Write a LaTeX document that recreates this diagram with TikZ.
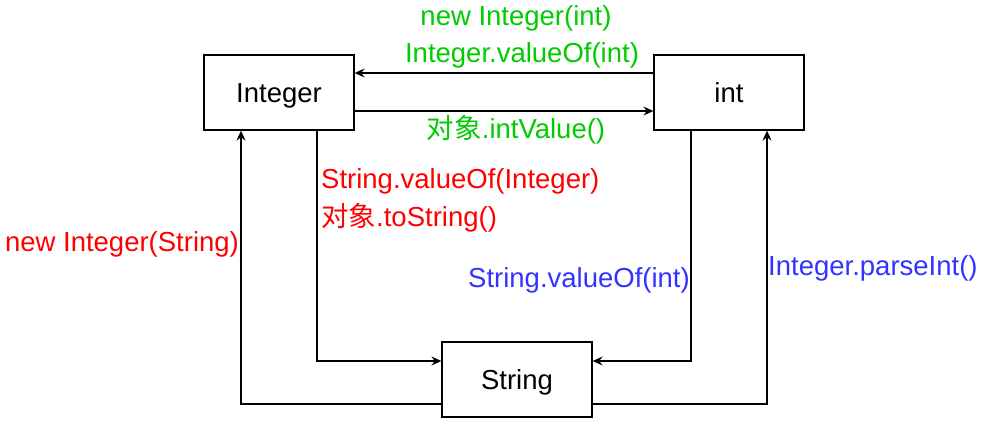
\documentclass[tikz,border=0pt]{standalone}
\usepackage{fontspec}
\setmainfont{Liberation Sans}
\newfontfamily\cjk{Noto Sans CJK SC}
\usetikzlibrary{arrows.meta}
\definecolor{cgreen}{HTML}{00CC00}
\definecolor{cred}{HTML}{FF0000}
\definecolor{cblue}{HTML}{3333FF}
\begin{document}
\begin{tikzpicture}[x=1pt,y=-1pt,
  box/.style={draw, line width=1.3pt, minimum width=150pt, minimum height=75pt, inner sep=0pt, text height=20pt, text depth=1pt, font=\fontsize{27.5}{33}\selectfont},
  conn/.style={line width=1.3pt, -{Stealth[length=10pt,width=9pt,inset=3.5pt]}},
  lbl/.style={inner sep=0pt, font=\fontsize{27.5}{33}\selectfont},
]
\useasboundingbox (0,0) rectangle (981,424);
\node[box] (Integer) at (279,92.5) {Integer};
\node[box] (int) at (729,92.5) {int};
\node[box] (String) at (517,379.5) {String};

\draw[conn] ([yshift=19.5pt]int.west) -- ([yshift=19.5pt]Integer.east);
\draw[conn] ([yshift=-18.5pt]Integer.east) -- ([yshift=-18.5pt]int.west);
\draw[conn] ([xshift=38pt]Integer.south) |- ([yshift=18.5pt]String.west);
\draw[conn] ([xshift=-38pt]int.south) |- ([yshift=18.5pt]String.east);
\draw[conn] ([yshift=-24.5pt]String.west) -| ([xshift=-38pt]Integer.south);
\draw[conn] ([yshift=-24.5pt]String.east) -| ([xshift=38pt]int.south);

\node[lbl, text=cgreen] (g1) at (516,18) {new Integer(int)};
\node[lbl, text=cgreen] (g2) at (522,55) {Integer.valueOf(int)};
\node[lbl, text=cgreen] (g3) at (516,130) {{\cjk 对象}.intValue()};
\node[lbl, text=cred, anchor=west] (r1) at (321,181) {String.valueOf(Integer)};
\node[lbl, text=cred, anchor=west] (r2) at (321,218) {{\cjk 对象}.toString()};
\node[lbl, text=cred] (r3) at (122,244) {new Integer(String)};
\node[lbl, text=cblue, anchor=east] (b1) at (690,280) {String.valueOf(int)};
\node[lbl, text=cblue, anchor=west] (b2) at (768,268) {Integer.parseInt()};
\end{tikzpicture}
\end{document}
